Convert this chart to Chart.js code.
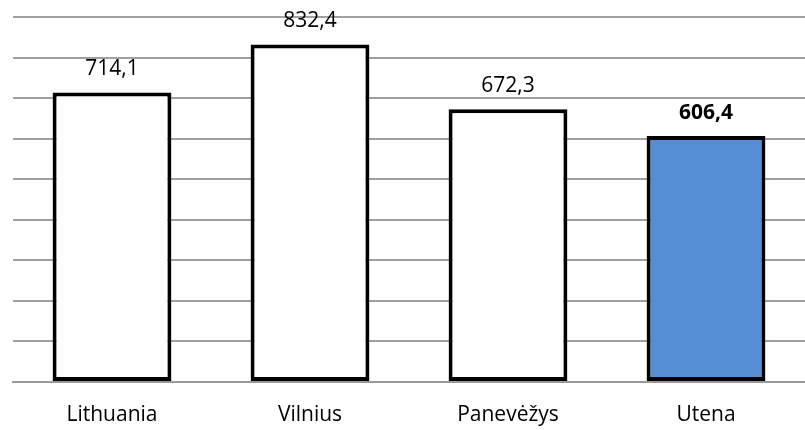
<!DOCTYPE html>
<html>
<head>
<meta charset="utf-8">
<script src="https://cdn.jsdelivr.net/npm/chart.js@4/dist/chart.umd.min.js"></script>
<style>
  html, body { margin: 0; padding: 0; background: #fff; }
  #wrap { width: 805px; height: 430px; }
</style>
</head>
<body>
<div id="wrap"><canvas id="chart"></canvas></div>
<script>
const regions = ["Lithuania", "Vilnius", "Panevėžys", "Utena"];
const values = [714.1, 832.4, 672.3, 606.4];
const fills = ["#ffffff", "#ffffff", "#ffffff", "#558ed5"];
const boldLabel = [false, false, false, true];
const yMax = 900;
const yStep = 100;

const FONT = "'Open Sans', 'Liberation Sans', sans-serif";

// draws the value above each bar, comma as decimal separator
const valueLabels = {
  id: "valueLabels",
  afterDatasetsDraw(chart) {
    const ctx = chart.ctx;
    const meta = chart.getDatasetMeta(0);
    ctx.save();
    ctx.textAlign = "center";
    ctx.textBaseline = "alphabetic";
    ctx.fillStyle = "#000";
    meta.data.forEach((bar, i) => {
      ctx.font = (boldLabel[i] ? "bold " : "") + "21px " + FONT;
      const txt = values[i].toFixed(1).replace(".", ",");
      ctx.fillText(txt, bar.x, bar.y - 17);
    });
    ctx.restore();
  },
};

new Chart(document.getElementById("chart"), {
  type: "bar",
  data: {
    labels: regions,
    datasets: [
      {
        data: values,
        backgroundColor: fills,
        borderColor: "#000000",
        borderWidth: 4,
        borderSkipped: false,
        categoryPercentage: 0.6,
        barPercentage: 1,
      },
    ],
  },
  options: {
    responsive: true,
    maintainAspectRatio: false,
    animation: false,
    layout: { padding: { left: 13, top: 17, right: 0, bottom: 0 } },
    plugins: {
      legend: { display: false },
      tooltip: { enabled: false },
    },
    scales: {
      x: {
        grid: { display: false, drawTicks: false },
        border: { display: true, color: "#9a9a9a", width: 2 },
        ticks: { color: "#000", font: { family: FONT, size: 21 }, padding: 20 },
        afterFit(scale) {
          scale.height = 48;
        },
      },
      y: {
        min: 0,
        max: yMax,
        ticks: { display: false, stepSize: yStep },
        grid: { color: "#a0a0a0", lineWidth: 2, drawTicks: false },
        border: { display: false },
      },
    },
  },
  plugins: [valueLabels],
});
</script>
</body>
</html>
